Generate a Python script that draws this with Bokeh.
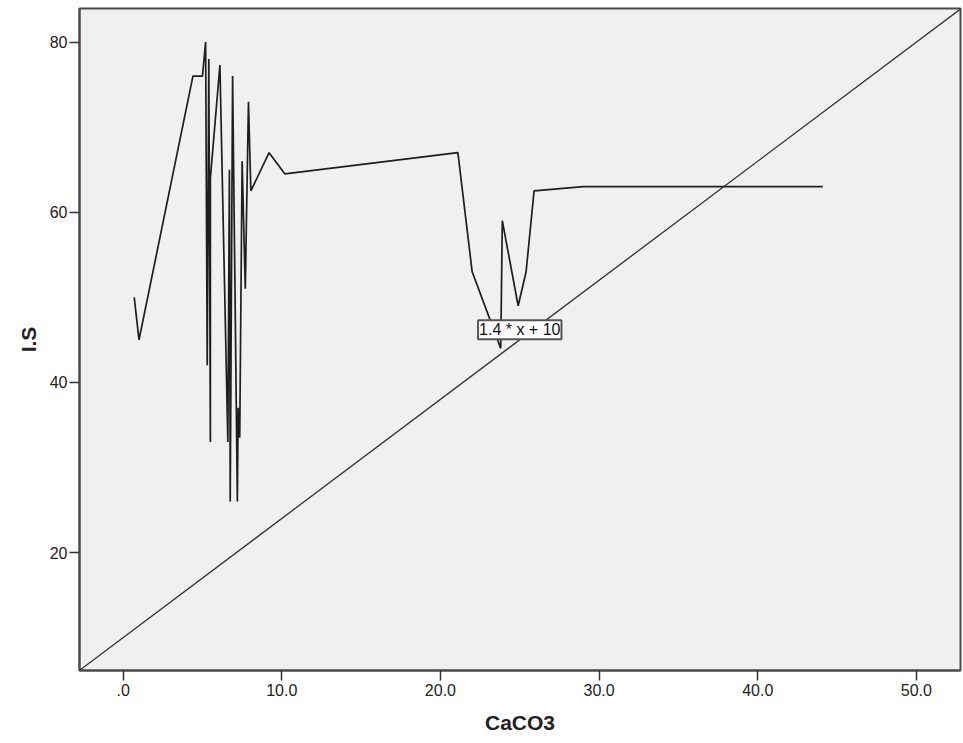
from bokeh.plotting import figure
from bokeh.models import Range1d, FixedTicker, Slope, Label
from bokeh.embed import file_html
from bokeh.resources import INLINE

# ---- data ----
caco3 = [0.7, 1.0, 4.4, 5.0, 5.2, 5.3, 5.4, 5.5, 5.5, 6.1, 6.6, 6.7, 6.75, 6.9,
         7.2, 7.25, 7.35, 7.5, 7.7, 7.9, 8.05, 9.2, 10.2, 21.1, 22.0, 23.8,
         23.9, 24.9, 25.4, 25.9, 29.0, 44.1]
i_s = [50, 45, 76, 76, 80, 42, 78, 33, 64, 77.3, 33, 65, 26, 76,
       26, 37, 33.5, 66, 51, 73, 62.5, 67, 64.5, 67, 53, 44,
       59, 49, 53, 62.5, 63, 63]

x_ticks = [0, 10, 20, 30, 40, 50]
x_tick_labels = [".0", "10.0", "20.0", "30.0", "40.0", "50.0"]
y_ticks = [20, 40, 60, 80]

ref_gradient = 1.4
ref_intercept = 10
ref_label = "1.4 * x + 10"
ref_label_x = 25.0
ref_label_y = 46.2

FONT = "Liberation Sans"
DARK = "#333333"

p = figure(width=963, height=743, output_backend="svg", toolbar_location=None,
           x_range=Range1d(-2.75, 52.78), y_range=Range1d(6.13, 83.95),
           min_border_left=79, min_border_right=3, min_border_top=8,
           min_border_bottom=73)

p.background_fill_color = "#f0f0f0"
p.border_fill_color = "white"
p.outline_line_color = "#4a4a4a"
p.outline_line_width = 2
p.grid.visible = False

p.line(caco3, i_s, line_color="#1e1e1e", line_width=1.7)

p.add_layout(Slope(gradient=ref_gradient, y_intercept=ref_intercept,
                   line_color="#303030", line_width=1.3))

p.add_layout(Label(x=ref_label_x, y=ref_label_y, text=ref_label,
                   text_align="center", text_baseline="middle",
                   text_font=FONT, text_font_size="16px", text_color="#111111",
                   background_fill_color="white", border_line_color="#555555",
                   border_line_width=2, padding=1))

p.xaxis.ticker = FixedTicker(ticks=x_ticks)
p.xaxis.major_label_overrides = {t: l for t, l in zip(x_ticks, x_tick_labels)}
p.yaxis.ticker = FixedTicker(ticks=y_ticks)

p.xaxis.axis_label = "CaCO3"
p.yaxis.axis_label = "I.S"

for ax in (p.xaxis, p.yaxis):
    ax.axis_line_color = "#4a4a4a"
    ax.axis_line_width = 2
    ax.major_tick_line_color = DARK
    ax.major_tick_line_width = 1.5
    ax.major_tick_out = 10
    ax.major_tick_in = 0
    ax.minor_tick_line_color = None
    ax.major_label_text_font = FONT
    ax.major_label_text_font_size = "16px"
    ax.major_label_text_color = "#222222"
    ax.axis_label_text_font = FONT
    ax.axis_label_text_font_size = "21px"
    ax.axis_label_text_font_style = "bold"
    ax.axis_label_text_color = "#222222"

p.xaxis.major_label_standoff = 3
p.yaxis.major_label_standoff = 2
p.xaxis.axis_label_standoff = 12
p.yaxis.axis_label_standoff = 7

open("out.html", "w").write(file_html(p, INLINE))
